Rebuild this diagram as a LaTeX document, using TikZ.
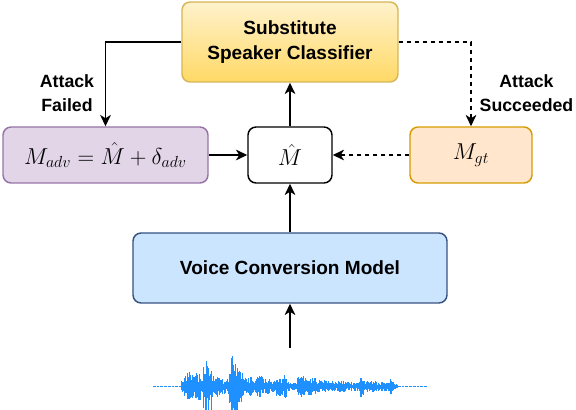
\documentclass[tikz,border=0pt]{standalone}
\usepackage{fontspec}
\setmainfont{Liberation Sans}
\usetikzlibrary{arrows.meta}
\definecolor{subfill1}{HTML}{FFF2CC}
\definecolor{subfill2}{HTML}{FFD966}
\definecolor{subline}{HTML}{D6B656}
\definecolor{advfill}{HTML}{E1D5E7}
\definecolor{advline}{HTML}{9673A6}
\definecolor{gtfill}{HTML}{FFE6CC}
\definecolor{gtline}{HTML}{D79B00}
\definecolor{vcfill}{HTML}{CCE5FF}
\definecolor{vcline}{HTML}{36527F}
\definecolor{wavecol}{HTML}{1E90FF}
\tikzset{
  boxbase/.style={rectangle, rounded corners=6pt, line width=1.1pt, inner sep=0pt, align=center},
  boxtext/.style={font=\fontsize{14.3}{18.75}\selectfont\bfseries},
  mathtext/.style={font=\fontsize{17}{20}\selectfont},
  labeltext/.style={font=\fontsize{13.3}{17.5}\selectfont\bfseries, align=center},
  arr/.style={line width=1.1pt, -{Stealth[length=8.5pt,width=8pt,inset=2.5pt]}},
  dasharr/.style={arr, dash pattern=on 3.5pt off 2.5pt},
  wavestroke/.style={wavecol, line width=0.5pt},
}
\begin{document}
\begin{tikzpicture}[x=0.75pt,y=-0.75pt]
\useasboundingbox (0,0) rectangle (576,410);
% boxes
\node[boxbase, boxtext, draw=subline, top color=subfill1, bottom color=subfill2,
      minimum width=162pt, minimum height=60pt] (sub) at (290,42) {Substitute\\Speaker Classifier};
\node[boxbase, mathtext, draw=advline, fill=advfill,
      minimum width=153.75pt, minimum height=42pt] (madv) at (105.5,155) {$M_{adv}=\hat{M}+\delta_{adv}$};
\node[boxbase, mathtext, draw=black, fill=white,
      minimum width=63pt, minimum height=42pt] (mhat) at (290,155) {$\hat{M}$};
\node[boxbase, mathtext, draw=gtline, fill=gtfill,
      minimum width=91.5pt, minimum height=42pt] (mgt) at (471,155) {$M_{gt}$};
\node[boxbase, boxtext, draw=vcline, fill=vcfill,
      minimum width=235.5pt, minimum height=52.5pt] (vc) at (290,268) {Voice Conversion Model};
% labels
\node[labeltext] (lfail) at (67,93) {Attack\\Failed};
\node[labeltext] (lsucc) at (526.5,93) {Attack\\Succeeded};
% waveform
\coordinate (wave) at (290,348);
\draw[wavecol, line width=0.9pt, dash pattern=on 2pt off 0.8pt] (153,386.5) -- (181,386.5);
\draw[wavecol, line width=0.9pt, dash pattern=on 2pt off 0.8pt] (398,386.5) -- (427,386.5);
\pgfmathsetseed{7}
\foreach \xa/\xb/\amp in {181/184/6, 184/190/15, 190/196/12, 196/201/14, 201/203/6,
  203/205/22, 205/208/31, 208/212/24, 212/218/11, 218/224/9, 224/229/8,
  229/231/20, 231/234/35, 234/238/26, 238/243/16, 243/247/9, 247/252/10,
  252/256/7, 256/262/11, 262/270/8, 270/276/6, 276/283/10, 283/287/12,
  287/297/5, 297/303/12, 303/315/9, 315/325/7, 325/345/6, 345/360/5,
  360/363/11, 363/375/6, 375/390/5, 390/393/8, 393/398/3}{
  \pgfmathtruncatemacro{\nn}{(\xb-\xa)/0.6}
  \foreach \i in {0,...,\nn}{
    \pgfmathsetmacro{\xx}{\xa+\i*0.6}
    \pgfmathsetmacro{\up}{\amp*(0.3+0.7*rnd)}
    \pgfmathsetmacro{\dn}{\amp*(0.3+0.7*rnd)}
    \draw[wavestroke] (\xx,386.5-\up) -- (\xx,386.5+\dn);
  }
}
% connectors
\draw[arr] (sub.west) -| (madv.north);
\draw[dasharr] (sub.east) -| (mgt.north);
\draw[arr] (madv.east) -- (mhat.west);
\draw[dasharr] (mgt.west) -- (mhat.east);
\draw[arr] (mhat.north) -- (sub.south);
\draw[arr] (vc.north) -- (mhat.south);
\draw[arr] (wave) -- (vc.south);
\end{tikzpicture}
\end{document}
